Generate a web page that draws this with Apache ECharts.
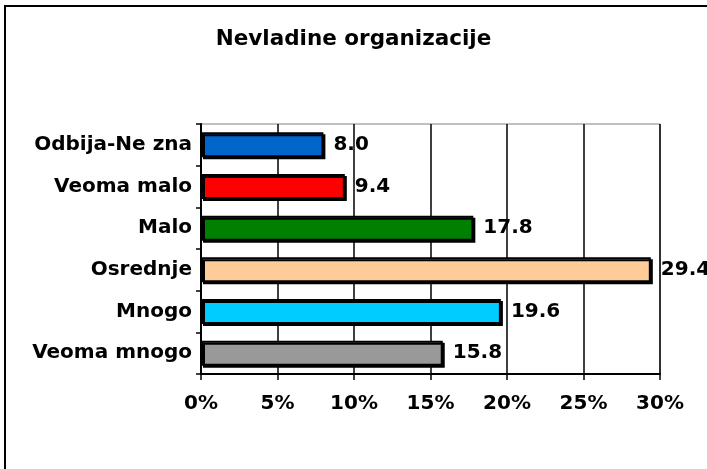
<!DOCTYPE html>
<html>
<head>
<meta charset="utf-8">
<script src="https://cdn.jsdelivr.net/npm/echarts@6/dist/echarts.min.js"></script>
<style>
  html, body { margin: 0; padding: 0; background: #fff; }
  #chart { width: 707px; height: 469px; }
</style>
</head>
<body>
<div id="chart"></div>
<script>
// kategorije odozdo prema gore
var categories = ['Veoma mnogo', 'Mnogo', 'Osrednje', 'Malo', 'Veoma malo', 'Odbija-Ne zna'];
var values = [15.8, 19.6, 29.4, 17.8, 9.4, 8.0];
var colors = ['#999999', '#00CCFF', '#FFCC99', '#008000', '#FF0000', '#0066CC'];
var xTicks = [0, 5, 10, 15, 20, 25, 30];

var font = 'DejaVu Sans';
var chart = echarts.init(document.getElementById('chart'));

var option = {
    backgroundColor: '#fff',
    animation: false,
    title: {
        text: 'Nevladine organizacije',
        left: 'center',
        top: 23,
        textStyle: { fontFamily: font, fontWeight: 'bold', fontSize: 21.5, color: '#000' }
    },
    graphic: [{
        type: 'rect',
        shape: { x: 5, y: 6, width: 710, height: 480 },
        style: { fill: null, stroke: '#000', lineWidth: 2 },
        silent: true
    }],
    grid: {
        left: 201, right: 47, top: 124, bottom: 95,
        show: true, borderColor: '#808080', borderWidth: 1
    },
    xAxis: {
        type: 'value',
        min: xTicks[0],
        max: xTicks[xTicks.length - 1],
        interval: 5,
        axisLine: { show: true, lineStyle: { color: '#000', width: 2 } },
        axisTick: { show: true, length: 6, lineStyle: { color: '#000', width: 1.5 } },
        splitLine: { show: true, lineStyle: { color: '#000', width: 1.5 } },
        axisLabel: {
            formatter: '{value}%', margin: 20,
            fontFamily: font, fontWeight: 'bold', fontSize: 20, color: '#000'
        }
    },
    yAxis: {
        type: 'category',
        data: categories,
        axisLine: { show: true, lineStyle: { color: '#000', width: 2 } },
        axisTick: { show: true, length: 5, lineStyle: { color: '#000', width: 1.5 } },
        axisLabel: {
            margin: 9,
            fontFamily: font, fontWeight: 'bold', fontSize: 20, color: '#000'
        }
    },
    series: [{
        type: 'bar',
        barCategoryGap: '40%',
        data: values.map(function (v, i) {
            return { value: v, itemStyle: { color: colors[i] } };
        }),
        itemStyle: {
            borderColor: '#000', borderWidth: 2,
            shadowColor: '#000', shadowOffsetX: 2, shadowOffsetY: 2, shadowBlur: 0
        },
        label: {
            show: true, position: 'right', distance: 10,
            formatter: function (p) { return p.value.toFixed(1); },
            fontFamily: font, fontWeight: 'bold', fontSize: 20, color: '#000'
        }
    }]
};

chart.setOption(option);
</script>
</body>
</html>
